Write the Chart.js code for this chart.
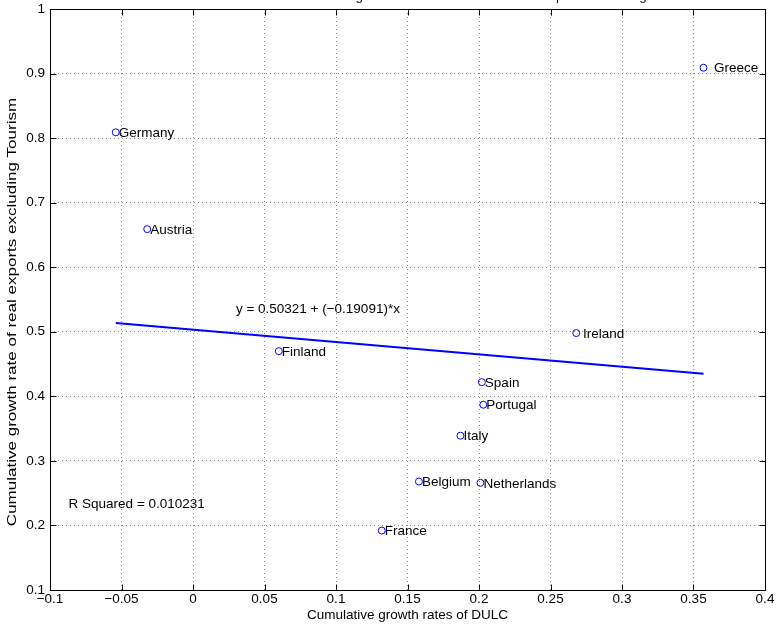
<!DOCTYPE html>
<html>
<head>
<meta charset="utf-8">
<script src="https://cdn.jsdelivr.net/npm/chart.js@4/dist/chart.umd.min.js"></script>
<style>
  html,body{margin:0;padding:0;background:#fff;}
  canvas{display:block;}
</style>
</head>
<body>
<canvas id="cv" width="777" height="624"></canvas>
<script>
// values
const countries=["Greece","Germany","Austria","Finland","Ireland","Spain","Portugal","Italy","Belgium","Netherlands","France"];
const labelText=["  Greece","Germany","Austria","Finland"," Ireland","Spain","Portugal","Italy","Belgium","Netherlands","France"];
const dulc=[0.357,-0.054,-0.032,0.060,0.268,0.202,0.203,0.187,0.158,0.201,0.132];
const exportsGrowth=[0.909,0.809,0.659,0.470,0.498,0.422,0.387,0.339,0.268,0.266,0.192];
const fitX=[-0.054,0.357];
const fitY=[0.5137,0.4351];
const xTicks=[-0.1,-0.05,0,0.05,0.1,0.15,0.2,0.25,0.3,0.35,0.4];
const yTicks=[0.1,0.2,0.3,0.4,0.5,0.6,0.7,0.8,0.9,1];
const eqText="y = 0.50321 + (\u22120.19091)*x";
const eqPos=[0.030,0.535];
const rsqText="R Squared = 0.010231";
const rsqPos=[-0.087,0.233];
const titleText="Eurozone 2000 - 2010: Cumulative growth rates of DULC and real exports excluding Tourism";
const yTitle="Cumulative growth rate of real exports excluding Tourism";

const FAMILY="'Liberation Sans', Arial, sans-serif";
const FSIZE=13.5;
const FONT=FSIZE+"px "+FAMILY;
const fmt=v=>String(v).replace("-","\u2212");

const boxTicks={
  id:"boxTicks",
  beforeDatasetsDraw(chart){
    const {ctx,chartArea:a}=chart;
    ctx.save();
    ctx.strokeStyle="#000"; ctx.lineWidth=1;
    ctx.beginPath();
    const L=Math.round(a.left)+0.5,R=Math.round(a.right)+0.5,T=Math.round(a.top)+0.5,B=Math.round(a.bottom)+0.5;
    ctx.rect(L,T,R-L,B-T);
    chart.scales.x.ticks.forEach(t=>{
      const px=Math.round(chart.scales.x.getPixelForValue(t.value))+0.5;
      ctx.moveTo(px,B); ctx.lineTo(px,B-6);
      ctx.moveTo(px,T); ctx.lineTo(px,T+6);
    });
    chart.scales.y.ticks.forEach(t=>{
      const py=Math.round(chart.scales.y.getPixelForValue(t.value))+0.5;
      ctx.moveTo(L,py); ctx.lineTo(L+6,py);
      ctx.moveTo(R,py); ctx.lineTo(R-6,py);
    });
    ctx.stroke();
    ctx.restore();
  },
  afterDatasetsDraw(chart){
    const {ctx}=chart;
    const sx=chart.scales.x, sy=chart.scales.y;
    ctx.save();
    ctx.font=FONT; ctx.fillStyle="#000"; ctx.textBaseline="middle"; ctx.textAlign="left";
    chart.getDatasetMeta(1).data.forEach((p,i)=>{
      ctx.fillText(labelText[i],p.x+3,p.y+1);
    });
    ctx.fillText(eqText,sx.getPixelForValue(eqPos[0]),sy.getPixelForValue(eqPos[1]));
    ctx.fillText(rsqText,sx.getPixelForValue(rsqPos[0]),sy.getPixelForValue(rsqPos[1]));
    ctx.textAlign="center"; ctx.textBaseline="alphabetic";
    ctx.fillText(titleText,(chart.chartArea.left+chart.chartArea.right)/2+13,0);
    // y axis title, stretched along its length like the reference
    ctx.translate(12,312); ctx.rotate(-Math.PI/2); ctx.scale(1.26,1);
    ctx.textBaseline="middle";
    ctx.fillText(yTitle,0,0);
    ctx.restore();
  }
};

new Chart(document.getElementById("cv").getContext("2d"),{
  type:"scatter",
  data:{datasets:[
    {type:"line",data:fitX.map((x,i)=>({x,y:fitY[i]})),borderColor:"#0000ff",borderWidth:2,pointRadius:0,fill:false,tension:0},
    {data:dulc.map((x,i)=>({x,y:exportsGrowth[i]})),pointStyle:"circle",pointRadius:3.5,borderColor:"#0000ff",backgroundColor:"rgba(0,0,0,0)",borderWidth:1}
  ]},
  options:{
    animation:false,responsive:false,maintainAspectRatio:false,
    layout:{padding:{top:9,right:12,left:0,bottom:0}},
    plugins:{legend:{display:false},tooltip:{enabled:false}},
    scales:{
      x:{type:"linear",min:-0.1,max:0.4,
        afterBuildTicks(s){ s.ticks=xTicks.map(v=>({value:v})); },
        afterFit(s){ s.height=34; s.paddingLeft=0; s.paddingRight=0; },
        ticks:{callback:v=>fmt(v),color:"#000",font:{family:FAMILY,size:FSIZE},padding:1,maxRotation:0,autoSkip:false},
        grid:{color:"#8a8a8a",drawTicks:false,lineWidth:1},
        border:{display:false,dash:[1,3]},
        title:{display:true,text:"Cumulative growth rates of DULC",color:"#000",font:{family:FAMILY,size:FSIZE},padding:{top:0,bottom:1}}
      },
      y:{type:"linear",min:0.1,max:1,
        afterBuildTicks(s){ s.ticks=yTicks.map(v=>({value:v})); },
        afterFit(s){ s.width=50; s.paddingTop=0; s.paddingBottom=0; },
        ticks:{callback:v=>fmt(v),color:"#000",font:{family:FAMILY,size:FSIZE},padding:5,autoSkip:false},
        grid:{color:"#8a8a8a",drawTicks:false,lineWidth:1},
        border:{display:false,dash:[1,3]},
        title:{display:false}
      }
    }
  },
  plugins:[boxTicks]
});
</script>
</body>
</html>
